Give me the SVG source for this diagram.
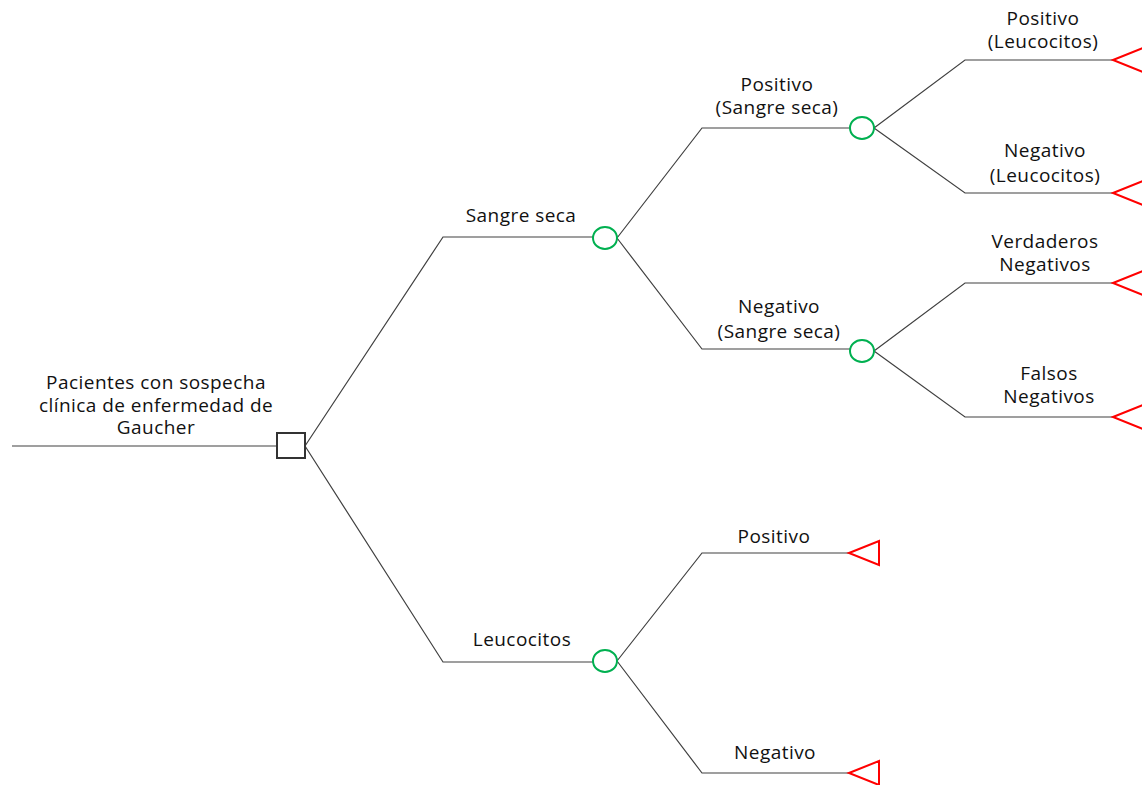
<svg xmlns="http://www.w3.org/2000/svg" width="1142" height="785" viewBox="0 0 1142 785">
<style>
.e{fill:none;stroke:#404040;stroke-width:1.2}
.d{fill:#fff;stroke:#333;stroke-width:2}
.c{fill:#fff;stroke:#00b050;stroke-width:2}
.t{fill:#fff;stroke:#ff0000;stroke-width:2}
text{font-family:"Open Sans","Noto Sans",sans-serif;font-size:19px;letter-spacing:0.45px;fill:#111;text-anchor:middle}
</style>
<rect width="1142" height="785" fill="#fff"/>
<g id="connectors">
<path class="e" d="M12 446H277"/>
<path class="e" d="M305 446L443 237H594"/>
<path class="e" d="M305 446L443 662H594"/>
<path class="e" d="M617 238L702 128H850"/>
<path class="e" d="M617 238L702 349H850"/>
<path class="e" d="M874 128L965 60H1113"/>
<path class="e" d="M874 128L965 193H1113"/>
<path class="e" d="M874 351L965 283H1113"/>
<path class="e" d="M874 351L965 417H1113"/>
<path class="e" d="M617 661L702 553H849"/>
<path class="e" d="M617 661L702 773H849"/>
</g>
<g id="root"><rect class="d" x="277" y="433" width="28" height="25"/>
<text x="156" y="389">Pacientes con sospecha</text>
<text x="156" y="412">clínica de enfermedad de</text>
<text x="156" y="434">Gaucher</text></g>
<g id="sangre"><ellipse class="c" cx="605" cy="238" rx="12" ry="11"/>
<text x="521" y="222">Sangre seca</text></g>
<g id="leuco"><ellipse class="c" cx="605" cy="661" rx="12" ry="11"/>
<text x="522" y="646">Leucocitos</text></g>
<g id="pos_sangre"><ellipse class="c" cx="862" cy="128" rx="12" ry="11"/>
<text x="777" y="91">Positivo</text><text x="777" y="114">(Sangre seca)</text></g>
<g id="neg_sangre"><ellipse class="c" cx="862" cy="351" rx="12" ry="11"/>
<text x="779" y="313">Negativo</text><text x="779" y="338">(Sangre seca)</text></g>
<g id="pos_leuco_end"><polygon class="t" points="1113,60 1143,48 1143,72"/>
<text x="1043" y="25">Positivo</text><text x="1043" y="48">(Leucocitos)</text></g>
<g id="neg_leuco_end"><polygon class="t" points="1113,193 1143,181 1143,205"/>
<text x="1045" y="157">Negativo</text><text x="1045" y="182">(Leucocitos)</text></g>
<g id="vn_end"><polygon class="t" points="1113,283 1143,271 1143,295"/>
<text x="1045" y="248">Verdaderos</text><text x="1045" y="271">Negativos</text></g>
<g id="fn_end"><polygon class="t" points="1113,417 1143,405 1143,429"/>
<text x="1049" y="380">Falsos</text><text x="1049" y="403">Negativos</text></g>
<g id="pos_end"><polygon class="t" points="849,553 879,541 879,565"/>
<text x="774" y="543">Positivo</text></g>
<g id="neg_end"><polygon class="t" points="849,773 879,761 879,785"/>
<text x="775" y="759">Negativo</text></g>
</svg>
